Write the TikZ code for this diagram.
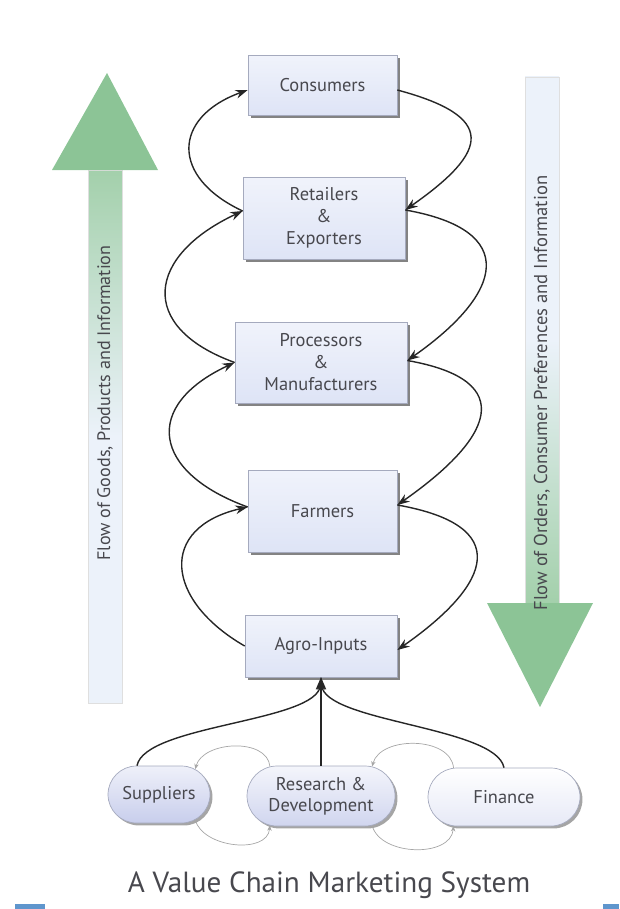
\documentclass[tikz,border=0pt]{standalone}
\usepackage{fontspec}
\setmainfont{PT Sans}
\usetikzlibrary{arrows.meta,positioning,calc,shapes.misc,shadows}
\definecolor{boxfill}{RGB}{222,228,246}
\definecolor{boxedge}{RGB}{165,170,190}
\definecolor{pillfill}{RGB}{200,206,236}
\definecolor{flowgreen}{RGB}{140,196,150}
\definecolor{shaftpale}{RGB}{236,242,250}
\definecolor{inkgray}{RGB}{72,72,78}
\definecolor{scanblue}{RGB}{95,150,205}

\begin{document}
\begin{tikzpicture}[x=0.02cm,y=0.02cm,
  stage/.style={draw=boxedge, top color=white!55!boxfill, bottom color=boxfill, align=center, text=inkgray, font=\fontsize{10.5}{12.5}\selectfont, inner sep=0pt, drop shadow={shadow xshift=1.6pt, shadow yshift=-1.6pt, opacity=0.65, fill=black!75}},
  pill/.style={rounded rectangle, draw=boxedge, align=center, text=inkgray, font=\fontsize{10.5}{12}\selectfont, inner sep=0pt, drop shadow={shadow xshift=1.4pt, shadow yshift=-1.4pt, opacity=0.5, fill=black!70}},
  flow/.style={-{Stealth[length=7pt,width=5pt]}, thick, black!85},
  swap/.style={-{Stealth[length=3pt,width=2.5pt]}, gray!70, line width=0.4pt},
  side/.style={rotate=90, text=inkgray}]
\useasboundingbox (0,0) rectangle (619,-909);
\shade[draw=gray!25, bottom color=shaftpale, top color=flowgreen!80, middle color=shaftpale] (88,-703) rectangle (122,-170);
\fill[flowgreen] (52,-170) -- (107,-73) -- (158,-170) -- cycle;
\shade[draw=gray!25, top color=shaftpale, bottom color=flowgreen!80, middle color=shaftpale] (525,-77) rectangle (559,-603);
\fill[flowgreen] (487,-603) -- (540,-707) -- (593,-603) -- cycle;
\node[side, font=\fontsize{10.3}{12}\selectfont] (goods) at (105,-403) {Flow of Goods, Products and Information};
\node[side, font=\fontsize{10.6}{12}\selectfont] (orders) at (542,-393) {Flow of Orders, Consumer Preferences and Information};
\node[stage, minimum width=2.98cm, minimum height=1.2cm] (con) at (322.5,-85) {Consumers};
\node[stage, minimum width=3.24cm, minimum height=1.64cm] (ret) at (324,-218) {Retailers\\\&\\Exporters};
\node[stage, minimum width=3.44cm, minimum height=1.62cm] (pro) at (321,-362.5) {Processors\\\&\\Manufacturers};
\node[stage, minimum width=2.98cm, minimum height=1.64cm] (far) at (322.5,-511) {Farmers};
\node[stage, minimum width=3.04cm, minimum height=1.24cm] (agr) at (321,-646) {Agro-Inputs};
\draw[flow] (agr.west) .. controls +(150:92) and +(193:92) .. ($(far.west)+(0,4)$);
\draw[flow] ($(far.west)+(0,4)$) .. controls +(160:102) and +(205:102) .. (pro.west);
\draw[flow] (pro.west) .. controls +(160:105) and +(205:105) .. ($(ret.west)+(0,7)$);
\draw[flow] ($(ret.west)+(0,7)$) .. controls +(155:80) and +(200:80) .. ($(con.west)+(0,-5)$);
\draw[flow] ($(con.east)+(0,-5)$) .. controls +(-15:103) and +(35:103) .. ($(ret.east)+(0,8)$);
\draw[flow] ($(ret.east)+(0,8)$) .. controls +(-10:117) and +(35:117) .. ($(pro.east)+(0,2)$);
\draw[flow] ($(pro.east)+(0,2)$) .. controls +(-10:115) and +(35:115) .. ($(far.east)+(0,6)$);
\draw[flow] ($(far.east)+(0,6)$) .. controls +(-10:117) and +(35:117) .. ($(agr.east)+(0,-4)$);
\node[pill, top color=white!70!pillfill, bottom color=pillfill, minimum width=2.04cm, minimum height=1.14cm] (sup) at (159,-794.5) {Suppliers};
\node[pill, top color=white!80!pillfill, bottom color=white!15!pillfill, minimum width=2.96cm, minimum height=1.2cm] (rnd) at (321,-796) {Research \&\\Development};
\node[pill, top color=white, bottom color=white!55!pillfill, minimum width=3.04cm, minimum height=1.16cm] (fin) at (504,-797) {Finance};
\draw[flow] ($(sup.north)+(-22,0)$) .. controls +(79:42) and +(266:45) .. (agr.south);
\draw[flow] (rnd.north) -- (agr.south);
\draw[flow] (fin.north) .. controls +(101:42) and +(274:45) .. (agr.south);
\draw[swap] (rnd.150) to[out=95, in=75] (sup.35);
\draw[swap] (sup.-35) to[out=-75, in=-95] (rnd.-150);
\draw[swap] (fin.150) to[out=95, in=75] (rnd.30);
\draw[swap] (rnd.-30) to[out=-75, in=-95] (fin.-150);
\node[text=inkgray, font=\fontsize{16.6}{20}\selectfont] (title) at (329,-885) {A Value Chain Marketing System};
\fill[scanblue] (15,-904) rectangle (45,-909);
\fill[scanblue] (603,-904) rectangle (619,-909);
\end{tikzpicture}
\end{document}
